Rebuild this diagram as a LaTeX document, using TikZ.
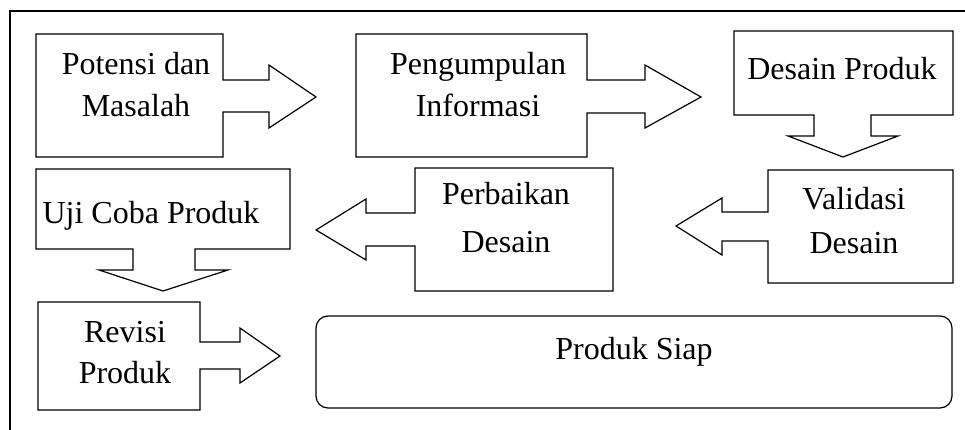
\documentclass[tikz,border=0pt]{standalone}
\usepackage{fontspec}
\setmainfont{Liberation Serif}
\begin{document}
\begin{tikzpicture}[x=1pt,y=-1pt,
  blk/.style={draw=black,line width=1.2pt,line join=miter,fill=white},
  lbl/.style={anchor=base,inner sep=0pt,font=\fontsize{32}{40}\selectfont}]
\useasboundingbox (0,0) rectangle (965,430);
% outer frame
\draw[line width=2pt] (10,431) -- (10,11) -- (966,11);
% box 1
\draw[blk] (36,34) -- (223,34) -- (223,80) -- (269,80) -- (269,65) -- (316,97) -- (269,128) -- (269,112) -- (223,112) -- (223,157) -- (36,157) -- cycle;
\node[lbl] (t1a) at (136,75) {Potensi dan};
\node[lbl] (t1b) at (136,117) {Masalah};
% box 2
\draw[blk] (356,34) -- (587,34) -- (587,80) -- (645,80) -- (645,65) -- (701,97) -- (645,128) -- (645,113) -- (587,113) -- (587,157) -- (356,157) -- cycle;
\node[lbl] (t2a) at (478,75) {Pengumpulan};
\node[lbl] (t2b) at (478,117) {Informasi};
% box 3
\draw[blk] (734,31) -- (953,31) -- (953,115) -- (871,115) -- (871,136) -- (898,136) -- (843,157) -- (788,136) -- (814,136) -- (814,115) -- (734,115) -- cycle;
\node[lbl] (t3) at (842,80) {Desain Produk};
% box 4
\draw[blk] (768,170) -- (953,170) -- (953,283) -- (768,283) -- (768,241) -- (722,241) -- (722,255) -- (676,226) -- (722,198) -- (722,212) -- (768,212) -- cycle;
\node[lbl] (t4a) at (854,210) {Validasi};
\node[lbl] (t4b) at (854,253) {Desain};
% box 5
\draw[blk] (415,168) -- (613,168) -- (613,291) -- (415,291) -- (415,246) -- (366,246) -- (366,260) -- (316,230) -- (366,199) -- (366,213) -- (415,213) -- cycle;
\node[lbl] (t5a) at (506,205) {Perbaikan};
\node[lbl] (t5b) at (506,252) {Desain};
% box 6
\draw[blk] (36,169) -- (290,169) -- (290,249) -- (195,249) -- (195,270) -- (228,270) -- (163,291) -- (99,270) -- (133,270) -- (133,249) -- (36,249) -- cycle;
\node[lbl] (t6) at (151,223) {Uji Coba Produk};
% box 7
\draw[blk] (38,302) -- (200,302) -- (200,342) -- (240,342) -- (240,328) -- (280,356) -- (240,383) -- (240,369) -- (200,369) -- (200,410) -- (38,410) -- cycle;
\node[lbl] (t7a) at (125,342) {Revisi};
\node[lbl] (t7b) at (125,383) {Produk};
% box 8
\draw[blk,rounded corners=12pt] (316,316) rectangle (952,408);
\node[lbl] (t8) at (634,359) {Produk Siap};
\end{tikzpicture}
\end{document}
